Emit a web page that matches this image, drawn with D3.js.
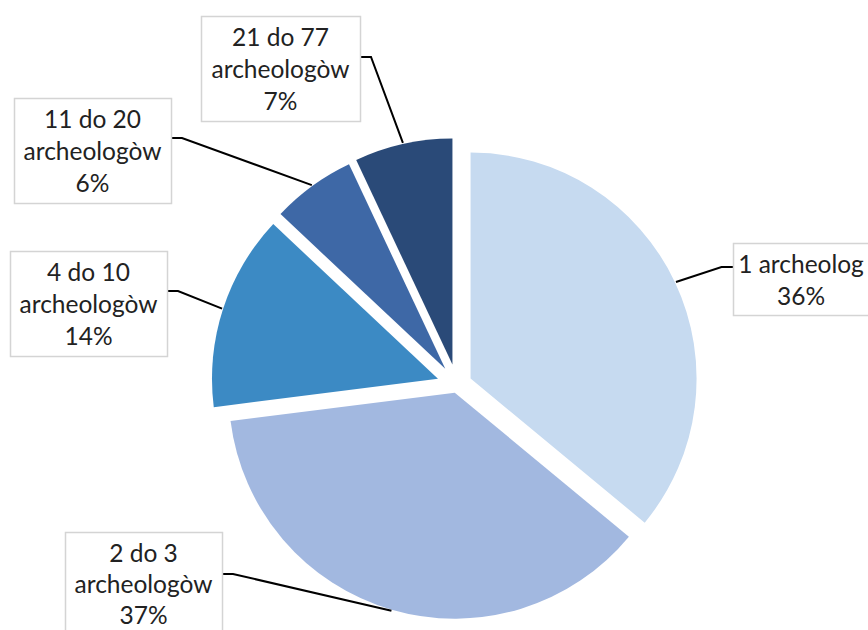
<!DOCTYPE html>
<html>
<head>
<meta charset="utf-8">
<script src="https://cdn.jsdelivr.net/npm/d3@7"></script>
<style>
  html, body { margin: 0; padding: 0; background: #fff; }
  svg { display: block; }
  text { font-family: Lato, "Open Sans", sans-serif; fill: #222; }
</style>
</head>
<body>
<div id="chart"></div>
<script>
// data
var categories = ["1 archeolog", "2 do 3 archeologòw", "4 do 10 archeologòw", "11 do 20 archeologòw", "21 do 77 archeologòw"];
var percents = [36, 37, 14, 6, 7];

// styling / layout
var colors = ["#c6daf0", "#a2b8e0", "#3c8ac4", "#3e68a6", "#2a4a78"];
var explode = [15, 8, 20, 20, 21];
var boxes = [
    { x: 733, y: 243, w: 140, h: 72, ay: 24, tx: 801, ls: 32 },
    { x: 65, y: 532, w: 157, h: 105, ay: 42, ls: 31 },
    { x: 10, y: 251, w: 157, h: 105, ay: 40, ls: 32 },
    { x: 14, y: 98, w: 157, h: 105, ay: 40, ls: 32 },
    { x: 201, y: 16, w: 159, h: 105, ay: 41, ls: 32 }
];

var width = 868, height = 630;
var cx = 457, cy = 385, radius = 226;

var svg = d3.select("#chart").append("svg")
    .attr("width", width)
    .attr("height", height);

var pie = d3.pie().sort(null).value(function (d) { return d; });
var arcs = pie(percents);
var arc = d3.arc().innerRadius(0).outerRadius(radius);

function vertex(d, i) {
    var mid = (d.startAngle + d.endAngle) / 2;
    return [cx + explode[i] * Math.sin(mid), cy - explode[i] * Math.cos(mid)];
}

svg.append("g").selectAll("path")
    .data(arcs).enter().append("path")
    .attr("transform", function (d, i) {
        var v = vertex(d, i);
        return "translate(" + v[0] + "," + v[1] + ")";
    })
    .attr("d", arc)
    .attr("fill", function (d, i) { return colors[i]; });

// leader lines
svg.append("g").selectAll("path")
    .data(arcs).enter().append("path")
    .attr("fill", "none")
    .attr("stroke", "#000")
    .attr("stroke-width", 2)
    .attr("d", function (d, i) {
        var v = vertex(d, i);
        var mid = (d.startAngle + d.endAngle) / 2;
        var ex = v[0] + (radius + 1) * Math.sin(mid);
        var ey = v[1] - (radius + 1) * Math.cos(mid);
        var b = boxes[i];
        var sx, kx;
        if (b.x + b.w / 2 > cx) { sx = b.x; kx = b.x - 11.5; }
        else { sx = b.x + b.w; kx = sx + 11; }
        var sy = b.y + b.ay;
        return "M" + sx + "," + sy + "L" + kx + "," + sy + "L" + ex + "," + ey;
    });

// label boxes
var labels = svg.append("g").selectAll("g")
    .data(arcs).enter().append("g");

labels.append("rect")
    .attr("x", function (d, i) { return boxes[i].x + 0.5; })
    .attr("y", function (d, i) { return boxes[i].y + 0.5; })
    .attr("width", function (d, i) { return boxes[i].w; })
    .attr("height", function (d, i) { return boxes[i].h; })
    .attr("fill", "#fff")
    .attr("stroke", "#d4d4d4")
    .attr("stroke-width", 1.5);

labels.each(function (d, i) {
    var b = boxes[i];
    var name = categories[i];
    var lines = name.indexOf(" archeologòw") > 0
        ? [name.replace(" archeologòw", ""), "archeologòw"]
        : [name];
    lines.push(percents[i] + "%");
    d3.select(this).selectAll("text")
        .data(lines).enter().append("text")
        .attr("x", b.tx || b.x + b.w / 2)
        .attr("y", function (t, k) { return b.y + 30 + k * b.ls; })
        .attr("text-anchor", "middle")
        .attr("font-size", 24.5)
        .text(function (t) { return t; });
});
</script>
</body>
</html>
